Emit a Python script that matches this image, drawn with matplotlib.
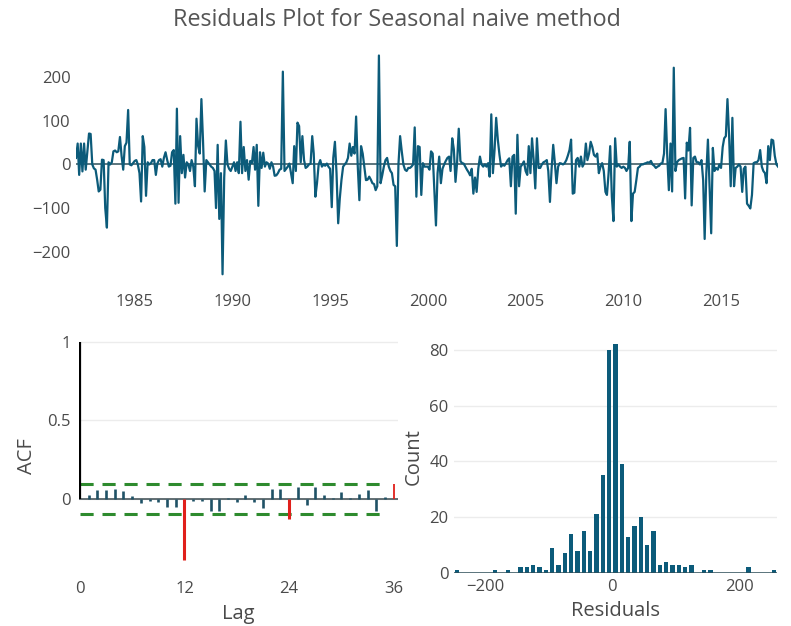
import matplotlib
matplotlib.use("Agg")
import matplotlib.pyplot as plt
import matplotlib.dates as mdates
import numpy as np
import pandas as pd

plt.rcParams['font.family'] = ['Open Sans', 'DejaVu Sans']

# monthly residuals of the seasonal naive forecast, 1982-01 .. 2017-12
resid = [
    15, 48, -24, 48, -16, 48, -12, 30, 71, 70, 0, -9,            # 1982
    -12, -36, -62, -58, 11, 10, -100, -145, 5, 0, 5, 30,         # 1983
    32, 28, 30, 63, 20, -12, 42, 50, 125, 0, -2, 3,              # 1984
    8, 10, 0, -20, -85, 65, 40, -72, 5, 0, 3, 10,                # 1985
    10, -24, 2, 10, 12, -5, 15, 28, 10, -5, -3, 28,              # 1986
    33, -90, 128, -88, 65, -20, 22, -30, 5, 0, -15, 10,          # 1987
    -5, -50, 105, 42, 25, 150, 55, -62, 10, 5, 0, -5,            # 1988
    -8, -15, -100, 45, -125, -20, -252, -30, 55, 0, -10, -15,    # 1989
    -5, 5, -15, 5, -20, 98, -20, 40, -15, 10, -35, 8,            # 1990
    3, 40, -12, 45, -95, 28, -8, 27, -5, 5, 2, -10,              # 1991
    5, -5, -26, -25, -20, -12, -10, 213, -15, -10, -5, 2,        # 1992
    -20, -43, 42, -15, 96, 88, 5, 65, 10, -8, -5, 0,             # 1993
    2, 65, 25, -74, -43, 0, 10, -5, 0, -3, 2, -5,                # 1994
    -10, -98, 15, 52, -20, -135, -78, -36, -5, 0, 5, 15,         # 1995
    48, 20, 40, 25, 110, -5, -82, 42, 25, -5, -36, -35,          # 1996
    -28, -35, -43, -45, -59, -50, 250, -43, -25, -5, 10, 15,     # 1997
    -5, -15, -20, -47, -50, -187, 0, 65, 30, 0, -12, -15,        # 1998
    -8, -8, -5, 0, 85, -74, 42, 40, -70, 3, -5, -5,              # 1999
    -5, -12, 30, 25, -59, -140, -20, 18, -43, -10, 0, 8,         # 2000
    15, 18, -15, 60, 35, -40, 5, 82, 8, 3, 2, -5,                # 2001
    -12, -18, -25, -10, -67, -30, -63, -10, 18, 0, -5, 0,        # 2002
    -5, 3, -28, 115, -20, 33, 107, 57, 22, -5, 0, -3,            # 2003
    3, 10, 14, -50, 18, 22, -113, 68, -50, -5, 0, 7,             # 2004
    -15, -24, 42, -20, 60, 10, -55, 60, -8, -8, 0, 5,            # 2005
    7, 10, -15, -86, -12, 45, 5, -43, -5, 3, 2, 0,               # 2006
    3, 10, 20, 33, 57, -67, -65, 10, 15, -5, 18, -5,             # 2007
    3, 48, 10, 25, 52, 40, 22, 18, 25, -20, -5, 3,               # 2008
    -15, -63, -70, -20, 42, -74, -130, 60, -5, 0, -5, -8,        # 2009
    -5, -8, -15, -8, 52, -130, -67, -63, -36, -8, -5, 0,         # 2010
    0, 2, 3, 5, 4, 8, 0, -3, -8, -5, -3, 2,                      # 2011
    3, 25, 127, 20, -59, 48, -62, 222, -15, 5, 10, 12,           # 2012
    14, 15, -78, 50, 32, 84, -94, 15, 18, 5, 5, 0,               # 2013
    10, -36, -171, -20, 57, -50, -158, 38, -15, -8, -12, 0,      # 2014
    -8, 40, 60, 65, 150, 65, -50, 107, -50, -8, -5, 0,           # 2015
    -5, -63, -10, -5, -90, -95, -101, -70, 3, 5, 5, 10,          # 2016
    33, -5, -15, -20, -43, 42, 10, 57, 55, 20, 0, -5,            # 2017
]
start_month = "1982-01"
year_ticks = [1985, 1990, 1995, 2000, 2005, 2010, 2015]

# autocorrelation of the residuals, lags 0..36
acf_vals = [1.0, 0.028, 0.058, 0.058, 0.062, 0.053, 0.019, -0.028, -0.01, -0.017,
            -0.05, -0.05, -0.39, -0.012, -0.012, -0.075, -0.075, 0.004, -0.02, 0.025,
            -0.02, -0.055, 0.062, 0.062, -0.125, 0.08, -0.035, 0.08, 0.028, 0.01,
            0.047, 0.008, 0.032, 0.058, -0.075, 0.015, 0.095]
acf_bound = 0.093
lag_ticks = [0, 12, 24, 36]

# histogram of residuals, bins of width 10 starting at -250
hist_start = -250
hist_width = 10
hist_counts = [1, 0, 0, 0, 0, 0, 1, 0, 1, 0, 2, 2, 3, 2, 1, 9, 3, 7, 14, 8, 15, 8,
               21, 35, 80, 82, 39, 13, 17, 20, 10, 15, 3, 4, 3, 3, 2, 3, 0, 1, 1,
               0, 0, 0, 0, 0, 2, 0, 0, 0, 1]

teal = '#0c5b7a'
txt = '#4a4a4a'
grid = '#ececec'

fig = plt.figure(figsize=(7.91, 6.26), dpi=100)
ax0 = fig.add_axes([0.0961, 0.5591, 0.8875, 0.3578])
ax1 = fig.add_axes([0.0999, 0.0847, 0.4033, 0.3722])
ax2 = fig.add_axes([0.5740, 0.0847, 0.4083, 0.3722])

fig.suptitle('Residuals Plot for Seasonal naive method', x=0.502, y=0.988,
             fontsize=16.8, color='#555555')

# top: residual series
dates = pd.date_range(start_month, periods=len(resid), freq='MS')
ax0.axhline(0, color='#2f4f5a', lw=1.1, zorder=1)
ax0.plot(dates, resid, color=teal, lw=1.6, zorder=2)
ax0.set_xlim(dates[0], dates[-1])
ax0.set_ylim(-256, 258)
ax0.set_yticks([-200, -100, 0, 100, 200])
ax0.set_xticks([pd.Timestamp(f'{y}-01-01') for y in year_ticks])
ax0.xaxis.set_major_formatter(mdates.DateFormatter('%Y'))
ax0.tick_params('x', pad=13)
ax0.tick_params('y', pad=4)

# bottom left: ACF
lags = np.arange(len(acf_vals))
for lag, v in zip(lags, acf_vals):
    if lag == 0:
        c, w = 'black', 1.6
    elif abs(v) > acf_bound:
        c, w = '#e0201b', 2.2 if abs(v) > 0.11 else 1.3
    else:
        c, w = '#1f5266', 1.9
    ax1.plot([lag, lag], [0, v], color=c, lw=w, solid_capstyle='butt', zorder=3)
ax1.axhline(0, color='#3a4a50', lw=1.1, zorder=2)
for b in (acf_bound, -acf_bound):
    ax1.plot([0, 35.4], [b, b], color='#2e8b2e', lw=2.2, ls=(0, (4.3, 2.9)), zorder=2)
ax1.set_xlim(-0.1, 36.5)
ax1.set_ylim(-0.47, 1.012)
ax1.set_xticks(lag_ticks)
ax1.set_yticks([0, 0.5, 1])
ax1.set_yticklabels(['0', '0.5', '1'])
ax1.yaxis.grid(True, color=grid, lw=1)
ax1.set_axisbelow(True)
ax1.set_xlabel('Lag', fontsize=14.5, color=txt, labelpad=5)
ax1.set_ylabel('ACF', fontsize=14.5, color=txt, labelpad=7)
ax1.tick_params('both', pad=6)

# bottom right: histogram
centers = hist_start + hist_width * (np.arange(len(hist_counts)) + 0.5)
ax2.bar(centers, hist_counts, width=hist_width * 0.68, color=teal, zorder=3)
ax2.axhline(0, color='#2f4f5a', lw=1.1, zorder=4)
ax2.set_xlim(hist_start, hist_start + hist_width * len(hist_counts))
ax2.set_ylim(0, 83.5)
ax2.set_xticks([-200, 0, 200])
ax2.set_yticks([0, 20, 40, 60, 80])
ax2.yaxis.grid(True, color=grid, lw=1)
ax2.set_axisbelow(True)
ax2.set_xlabel('Residuals', fontsize=14.5, color=txt, labelpad=5)
ax2.set_ylabel('Count', fontsize=14.5, color=txt, labelpad=4)
ax2.tick_params('both', pad=4)

for ax in (ax0, ax1, ax2):
    for s in ax.spines.values():
        s.set_visible(False)
    ax.tick_params('both', length=0, labelsize=12, labelcolor=txt)

fig.savefig('out.png', dpi=100)
